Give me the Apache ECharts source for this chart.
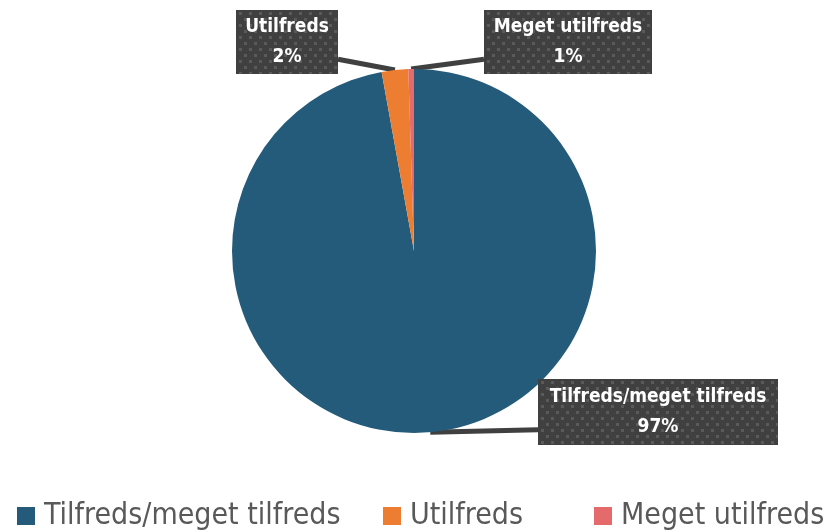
<!DOCTYPE html>
<html>
<head>
<meta charset="utf-8">
<script src="https://cdn.jsdelivr.net/npm/echarts@6/dist/echarts.min.js"></script>
<style>
  html, body { margin: 0; padding: 0; background: #fff; }
  #chart { width: 829px; height: 531px; }
</style>
</head>
<body>
<div id="chart"></div>
<script>
// data
const categories = ['Tilfreds/meget tilfreds', 'Utilfreds', 'Meget utilfreds']
const values = [97.15, 2.35, 0.5]
const colors = ['#245B7B', '#ED7D31', '#E46A6B']

// label boxes (centre, size, side the leader line attaches to)
const labelBoxes = [
  { cx: 658, cy: 412, w: 240, h: 66, side: 'left' },
  { cx: 287, cy: 42, w: 102, h: 64, side: 'right' },
  { cx: 568, cy: 42, w: 168, h: 64, side: 'left' }
]
const legendLeft = [17, 383, 594]

const font = "'DejaVu Sans Condensed', 'Liberation Sans', sans-serif"

// dark dotted texture for the callout boxes
function boxTexture(w, h) {
  const c = document.createElement('canvas')
  c.width = w
  c.height = h
  const ctx = c.getContext('2d')
  ctx.fillStyle = '#404040'
  ctx.fillRect(0, 0, w, h)
  ctx.fillStyle = '#5a5a5a'
  for (let j = 0; j * 6 < h; j++) {
    for (let i = 0; i * 10 < w + 10; i++) {
      ctx.fillRect(3 + i * 10 + (j % 2) * 5, 2 + j * 6, 3, 3)
    }
  }
  return c
}

const chart = echarts.init(document.getElementById('chart'), null, { renderer: 'canvas' })

const legends = categories.map((name, i) => ({
  data: [name],
  left: legendLeft[i],
  top: 494,
  padding: 0,
  icon: 'rect',
  itemWidth: 18,
  itemHeight: 18,
  itemGap: 0,
  selectedMode: false,
  textStyle: {
    fontFamily: font,
    fontSize: 30,
    lineHeight: 36,
    color: '#595959',
    padding: [0, 0, 8, 4]
  }
}))

chart.setOption({
  backgroundColor: '#ffffff',
  color: colors,
  animation: false,
  legend: legends,
  series: [
    {
      type: 'pie',
      center: [414, 251],
      radius: 182,
      startAngle: 90,
      clockwise: true,
      avoidLabelOverlap: false,
      silent: true,
      data: categories.map((name, i) => {
        const b = labelBoxes[i]
        const pad = (b.h - 60) / 2
        return {
          name: name,
          value: values[i],
          label: {
            width: b.w,
            padding: [pad, 0, pad, 0],
            backgroundColor: { image: boxTexture(b.w, b.h) }
          }
        }
      }),
      label: {
        show: true,
        position: 'outside',
        overflow: 'none',
        formatter: (p) => p.name + '\n' + Math.round(p.percent) + '%',
        fontFamily: font,
        fontWeight: 'bold',
        fontSize: 19,
        lineHeight: 30,
        color: '#ffffff',
        align: 'center',
        shadowColor: 'rgba(0,0,0,0.45)',
        shadowBlur: 5,
        shadowOffsetX: 3,
        shadowOffsetY: 3
      },
      labelLine: {
        show: true,
        length: 10,
        length2: 10,
        lineStyle: { color: '#404040', width: 5 }
      },
      labelLayout: function (params) {
        const b = labelBoxes[params.dataIndex]
        const ex = b.side === 'left' ? b.cx - b.w / 2 : b.cx + b.w / 2
        const ey = b.cy + b.h * 0.27
        const start = params.labelLinePoints[0]
        return {
          x: b.cx,
          y: b.cy,
          align: 'center',
          verticalAlign: 'middle',
          labelLinePoints: [start, [ex, ey], [ex, ey]]
        }
      }
    }
  ]
})
</script>
</body>
</html>
